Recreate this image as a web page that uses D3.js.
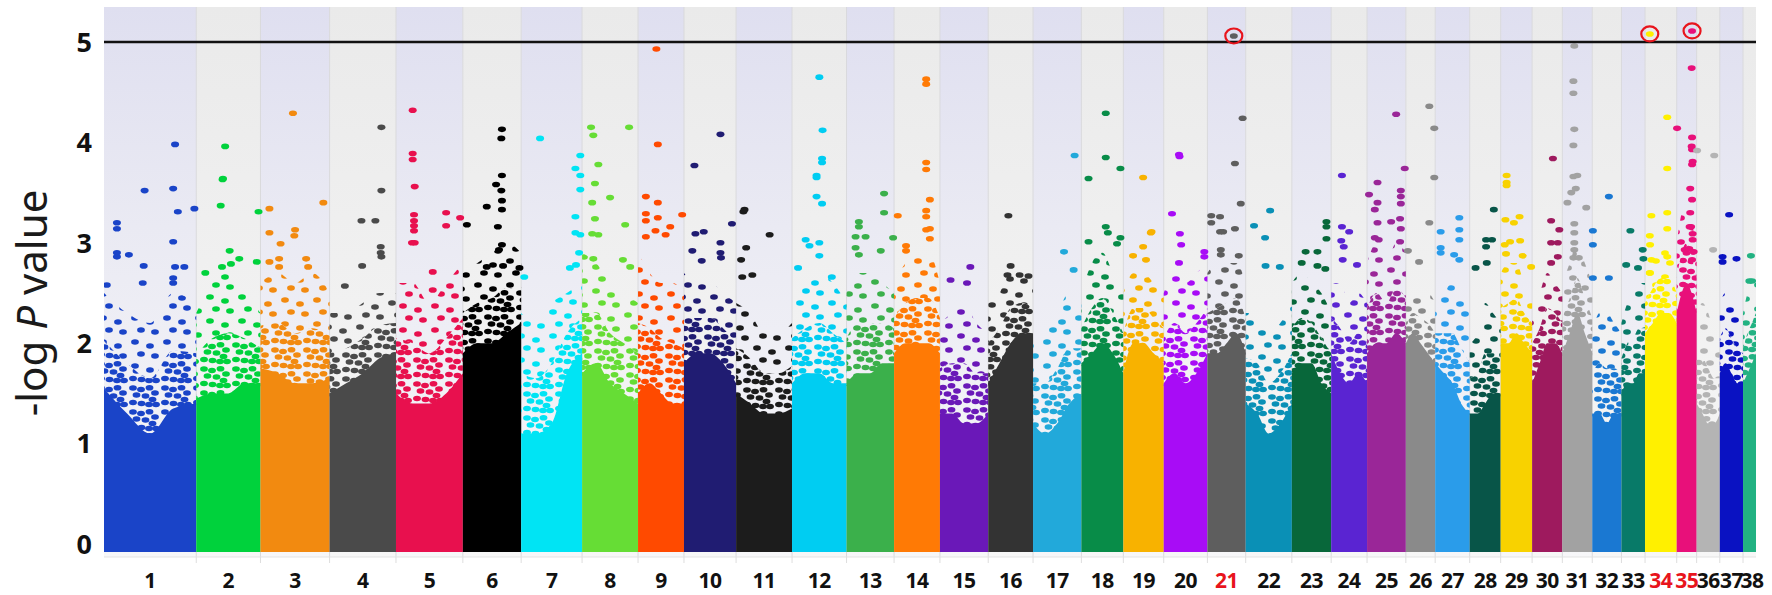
<!DOCTYPE html>
<html>
<head>
<meta charset="utf-8">
<script src="https://d3js.org/d3.v7.min.js"></script>
<style>
  html, body { margin: 0; padding: 0; background: #ffffff; }
  svg { display: block; font-family: "Noto Sans", "Open Sans", sans-serif; }
</style>
</head>
<body>
<svg id="chart" width="1772" height="595"></svg>
<script>
// chromosome names and lengths (Mb)
const chromNames = ["1","2","3","4","5","6","7","8","9","10","11","12","13","14","15","16","17","18","19",
  "20","21","22","23","24","25","26","27","28","29","30","31","32","33","34","35","36","37","38"];
const chromLengths = [122.7, 85.4, 91.9, 88.3, 88.9, 77.6, 81.0, 74.4, 61.1, 69.3, 74.4, 72.5, 63.2,
  61.0, 64.2, 59.6, 64.3, 55.8, 53.7, 58.1, 50.9, 61.4, 52.3, 47.7, 51.6, 39.0, 45.9, 41.2, 41.8,
  40.2, 39.8, 38.8, 31.4, 42.1, 26.5, 30.8, 30.9, 23.9];
const highlightChroms = ["21", "34", "35"];

// top of the dense (near solid) cloud, read at 0, 1/4, 1/2, 3/4, end of each chromosome
const coreLevels = [
  [1.55, 1.3, 1.1, 1.35, 1.4], [1.45, 1.5, 1.5, 1.6, 1.6], [1.75, 1.7, 1.6, 1.6, 1.65],
  [1.5, 1.6, 1.7, 1.85, 1.9], [1.5, 1.4, 1.4, 1.5, 1.7], [1.9, 2.0, 2.0, 2.1, 2.2],
  [1.1, 1.1, 1.2, 1.7, 1.9], [1.7, 1.8, 1.6, 1.5, 1.4], [1.5, 1.6, 1.5, 1.4, 1.4],
  [1.8, 1.9, 1.9, 1.8, 1.6], [1.5, 1.4, 1.3, 1.3, 1.35], [1.6, 1.7, 1.7, 1.6, 1.6],
  [1.6, 1.7, 1.7, 1.8, 1.8], [1.9, 2.0, 2.0, 2.0, 1.9], [1.3, 1.3, 1.2, 1.2, 1.3],
  [1.6, 1.8, 2.0, 2.1, 2.1], [1.2, 1.1, 1.2, 1.4, 1.5], [1.8, 1.9, 2.0, 1.9, 1.7],
  [1.7, 2.0, 2.0, 1.9, 1.8], [1.6, 1.7, 1.6, 1.7, 1.9], [1.9, 1.9, 2.0, 2.1, 1.9],
  [1.4, 1.3, 1.1, 1.2, 1.4], [1.7, 1.8, 1.8, 1.6, 1.5], [1.9, 1.7, 1.6, 1.7, 1.6],
  [1.9, 2.0, 2.0, 2.1, 2.0], [2.0, 2.1, 2.0, 1.9, 1.8], [1.8, 1.7, 1.6, 1.4, 1.3],
  [1.3, 1.3, 1.4, 1.5, 1.5], [2.0, 2.0, 2.1, 2.0, 1.9], [1.6, 1.8, 2.0, 2.0, 1.9],
  [1.9, 2.1, 2.3, 2.1, 1.9], [1.3, 1.3, 1.2, 1.3, 1.3], [1.5, 1.6, 1.6, 1.7, 1.7],
  [2.1, 2.2, 2.3, 2.3, 2.2], [2.3, 2.5, 2.6, 2.5, 2.3], [1.4, 1.3, 1.2, 1.2, 1.3],
  [1.7, 1.8, 1.7, 1.6, 1.6], [1.6, 1.7, 1.8, 1.9, 1.9]
];

// upper edge of the scattered band above the dense cloud, same sampling
const speckleLevels = [
  [2.5, 2.3, 2.2, 2.5, 2.4], [2.3, 2.6, 2.7, 2.5, 2.3], [2.6, 2.7, 2.6, 2.7, 2.5],
  [2.3, 2.3, 2.4, 2.5, 2.5], [2.6, 2.6, 2.4, 2.6, 2.8], [2.7, 2.8, 2.9, 3.0, 2.9],
  [2.3, 2.2, 2.4, 2.5, 2.6], [2.9, 2.8, 2.6, 2.5, 2.4], [2.9, 2.7, 2.6, 2.6, 2.5],
  [2.7, 2.6, 2.6, 2.5, 2.4], [2.4, 2.3, 2.1, 2.1, 2.2], [2.5, 2.6, 2.7, 2.6, 2.4],
  [2.5, 2.7, 2.7, 2.6, 2.5], [2.6, 2.8, 2.9, 2.9, 2.6], [2.2, 2.3, 2.4, 2.2, 2.1],
  [2.4, 2.5, 2.7, 2.7, 2.6], [2.0, 2.1, 2.3, 2.5, 2.4], [2.5, 2.8, 2.9, 2.7, 2.5],
  [2.5, 2.7, 2.7, 2.6, 2.5], [2.5, 2.7, 2.6, 2.7, 2.8], [2.7, 2.8, 2.8, 2.8, 2.6],
  [2.3, 2.3, 2.1, 2.2, 2.4], [2.6, 2.7, 2.6, 2.5, 2.3], [2.6, 2.6, 2.4, 2.5, 2.4],
  [2.8, 3.0, 2.8, 3.0, 2.9], [2.4, 2.5, 2.5, 2.5, 2.4], [2.4, 2.5, 2.6, 2.5, 2.3],
  [2.0, 2.1, 2.4, 2.3, 2.2], [2.7, 2.8, 2.8, 2.6, 2.5], [2.4, 2.5, 2.7, 2.6, 2.5],
  [2.6, 2.8, 3.0, 2.8, 2.6], [2.1, 2.3, 2.3, 2.2, 2.1], [2.2, 2.4, 2.5, 2.6, 2.6],
  [2.7, 2.9, 3.0, 3.0, 2.8], [3.0, 3.3, 3.4, 3.2, 3.0], [2.3, 2.4, 2.3, 2.1, 2.0],
  [2.4, 2.5, 2.4, 2.3, 2.2], [2.3, 2.5, 2.6, 2.7, 2.7]
];

// single SNPs standing above the cloud: [chromosome, position (Mb), -log P]
const hits = [
  [1,94.5,3.98],[1,54.0,3.52],[1,92.0,3.54],[1,98.2,3.31],[1,120.2,3.34],[1,17.2,3.2],[1,17.2,3.14],
  [1,17.2,2.9],[1,17.2,2.86],[1,33.1,2.88],[1,92.0,3.01],[1,52.8,2.77],[1,94.5,2.76],[1,106.8,2.76],
  [1,51.5,2.6],[1,92.0,2.65],[1,92.0,2.6],[1,3.7,2.58],
  [2,38.4,3.96],[2,35.0,3.63],[2,35.5,3.64],[2,32.5,3.37],[2,82.8,3.31],[2,44.4,2.92],[2,57.2,2.84],
  [2,46.1,2.79],[2,34.2,2.76],[2,80.5,2.81],[2,12.0,2.7],
  [3,43.2,4.29],[3,83.6,3.4],[3,11.9,3.34],[3,11.9,3.1],[3,46.0,3.13],[3,45.0,3.07],[3,26.7,2.99],
  [3,11.9,2.81],[3,24.8,2.84],[3,60.7,2.84],[3,63.4,2.76],[3,24.8,2.76],
  [4,68.9,4.15],[4,68.9,3.52],[4,42.4,3.22],[4,60.9,3.22],[4,68.0,2.96],[4,68.0,2.9],[4,68.9,2.86],
  [4,43.3,2.77],[4,20.3,2.57],
  [5,22.2,4.32],[5,22.2,3.89],[5,22.2,3.83],[5,24.9,3.56],[5,24.0,3.28],[5,24.0,3.22],[5,24.0,3.17],
  [5,24.0,3.12],[5,66.7,3.3],[5,66.7,3.17],[5,85.3,3.25],[5,21.3,3.0],[5,24.9,3.0],[5,48.9,2.71],
  [5,48.9,2.53],
  [6,52.0,4.13],[6,51.2,4.04],[6,52.0,3.67],[6,44.2,3.58],[6,51.2,3.52],[6,52.0,3.42],[6,52.0,3.33],
  [6,31.8,3.36],[6,5.4,3.18],[6,46.6,3.16],[6,52.0,2.98],[6,48.1,2.93],[6,31.8,2.76],[6,53.5,2.77],
  [6,75.3,2.75],
  [7,25.1,4.04],[7,78.6,3.87],[7,72.1,3.74],[7,78.6,3.67],[7,78.6,3.53],[7,72.1,3.26],[7,72.1,3.1],
  [7,78.6,3.08],[7,77.0,2.9],[7,64.8,2.75],[7,72.9,2.78],[7,4.1,2.66],
  [8,11.9,4.15],[8,62.5,4.15],[8,14.9,4.07],[8,21.6,3.78],[8,17.1,3.59],[8,37.2,3.45],[8,13.4,3.4],
  [8,17.1,3.24],[8,57.3,3.18],[8,13.4,3.09],[8,21.6,3.08],[8,54.3,2.83],[8,64.0,2.76],[8,14.9,2.84],
  [9,24.4,4.93],[9,26.3,3.98],[9,10.4,3.46],[9,26.3,3.4],[9,58.7,3.28],[9,10.4,3.29],[9,26.3,3.25],
  [9,10.4,3.22],[9,23.2,3.12],[9,36.7,3.08],[9,42.8,3.16],[9,10.4,3.06],
  [10,48.5,4.08],[10,13.9,3.77],[10,63.8,3.19],[10,15.2,3.09],[10,26.3,3.11],[10,48.5,3.0],
  [10,11.1,2.92],[10,23.6,2.82],[10,48.5,2.9],[10,49.2,2.85],
  [11,9.7,3.31],[11,11.2,3.33],[11,44.6,3.08],[11,13.4,2.95],[11,6.7,2.83],[11,21.6,2.68],[11,8.2,2.66],
  [12,36.3,4.65],[12,40.6,4.12],[12,39.9,3.84],[12,39.9,3.8],[12,32.6,3.67],[12,32.6,3.65],
  [12,32.6,3.46],[12,39.9,3.39],[12,18.1,3.03],[12,23.2,2.97],[12,36.3,3.0],[12,36.3,2.87],
  [12,8.0,2.75],[12,52.9,2.66],
  [13,49.9,3.49],[13,49.9,3.3],[13,16.4,3.21],[13,16.4,3.16],[13,12.0,3.06],[13,25.3,3.06],
  [13,61.9,3.05],[13,12.0,2.95],[13,16.4,2.88],[13,45.5,2.92],
  [14,42.7,4.63],[14,42.7,4.58],[14,42.7,3.8],[14,42.7,3.73],[14,47.6,3.43],[14,4.9,3.27],
  [14,42.7,3.32],[14,42.7,3.26],[14,47.6,3.14],[14,42.7,3.13],[14,47.6,3.04],[14,15.9,2.97],
  [14,15.9,2.92],
  [15,40.4,2.76],[15,14.1,2.63],[15,36.0,2.6],
  [16,26.8,3.27],[16,29.8,2.77],[16,25.6,2.68],[16,41.7,2.68],[16,53.6,2.67],
  [17,55.3,3.87],[17,41.2,2.91],[17,54.0,2.73],
  [18,32.4,4.29],[18,32.4,3.85],[18,51.9,3.74],[18,9.5,3.64],[18,32.4,3.16],[18,35.2,3.1],
  [18,51.9,3.05],[18,9.5,3.01],[18,47.4,2.99],
  [19,26.3,3.65],[19,36.5,3.1],[19,37.5,3.11],[19,26.3,2.96],[19,12.9,2.87],[19,30.1,2.83],
  [20,20.3,3.88],[20,21.0,3.86],[20,11.0,3.29],[20,21.5,3.09],[20,23.2,2.98],[20,54.0,2.91],
  [20,54.0,2.86],[20,20.3,2.8],
  [21,46.8,4.24],[21,36.6,3.79],[21,44.3,3.39],[21,5.1,3.27],[21,16.8,3.26],[21,5.1,3.2],
  [21,20.9,3.11],[21,16.8,3.11],[21,36.6,3.14],[21,17.8,2.93],[21,17.8,2.88],[21,41.7,2.87],
  [22,32.5,3.32],[22,11.1,3.17],[22,25.8,3.05],[22,26.4,2.77],[22,45.4,2.76],
  [23,46.0,3.21],[23,46.0,3.16],[23,46.0,3.04],[23,18.3,2.91],[23,34.0,2.91],[23,13.1,2.8],
  [23,34.0,2.77],[23,44.5,2.74],
  [24,14.3,3.67],[24,14.3,3.16],[24,23.9,3.11],[24,13.4,3.02],[24,16.7,2.96],[24,15.3,2.83],
  [24,34.3,2.78],
  [25,38.7,4.28],[25,50.1,3.74],[25,13.9,3.6],[25,2.6,3.48],[25,13.9,3.4],[25,44.9,3.52],
  [25,44.9,3.46],[25,44.9,3.39],[25,10.3,3.33],[25,13.9,3.2],[25,32.0,3.21],[25,43.9,3.24],
  [25,44.9,3.14],[25,10.3,3.05],[25,15.5,3.03],[25,43.9,3.01],
  [26,31.2,4.36],[26,37.8,4.14],[26,37.8,3.65],[26,31.2,3.2],[26,2.7,2.92],[26,17.6,2.81],
  [27,32.1,3.25],[27,32.1,3.13],[27,32.1,3.03],[27,7.3,3.11],[27,7.3,2.95],[27,7.3,2.9],
  [27,25.2,2.88],[27,32.1,2.83],
  [28,32.1,3.33],[28,29.7,3.03],[28,21.8,3.03],[28,21.8,2.96],[28,7.8,2.75],[28,22.7,2.8],
  [29,7.9,3.67],[29,7.9,3.6],[29,7.9,3.57],[29,6.3,3.23],[29,17.6,3.2],[29,25.1,3.26],[29,12.5,3.01],
  [29,25.9,3.02],[29,5.4,2.98],[29,29.3,2.87],[29,7.1,2.89],[29,40.5,2.76],
  [30,27.7,3.84],[30,25.3,3.22],[30,36.2,3.13],[30,25.3,3.0],[30,34.2,3.0],[30,34.2,2.86],[30,25.3,2.8],
  [31,15.9,4.96],[31,14.7,4.61],[31,14.7,4.49],[31,15.9,4.13],[31,14.7,3.97],[31,14.7,3.66],
  [31,19.9,3.67],[31,17.9,3.54],[31,11.9,3.5],[31,6.8,3.4],[31,31.8,3.35],[31,15.9,3.19],
  [31,15.9,3.1],[31,15.9,3.0],[31,15.9,2.93],[31,14.7,2.85],[31,21.9,2.85],
  [32,22.1,3.46],[32,0.8,3.12],[32,0.8,2.98],[32,22.1,2.65],[32,0.8,2.65],
  [33,11.9,3.12],[33,28.3,2.93],[33,29.2,2.84],[33,6.3,2.78],[33,22.0,2.75],
  [34,29.5,4.25],[34,29.5,3.74],[34,8.4,3.27],[34,29.5,3.3],[34,6.3,3.07],[34,6.7,2.98],
  [34,29.5,3.14],[34,29.5,2.86],[34,8.4,2.83],[34,6.3,2.7],
  [35,19.9,4.74],[35,0.5,4.14],[35,20.4,4.05],[35,19.9,3.96],[35,20.4,3.93],[35,21.2,3.81],
  [35,20.4,3.78],[35,18.0,3.54],[35,20.4,3.43],[35,18.0,3.3],[35,17.2,3.16],[35,19.1,3.16],
  [35,21.2,3.09],[35,10.6,2.93],[35,16.7,2.94],[35,21.2,3.03],[35,22.5,2.91],[35,20.4,2.83],
  [36,23.4,3.87],[36,0.6,3.92],[36,21.9,2.93],
  [37,12.4,3.28],[37,3.7,2.86],[37,3.7,2.81],[37,22.2,2.84],
  [38,10.5,2.87],[38,8.4,2.62],[38,12.0,2.62]
];

// SNPs passing the threshold, circled in the figure
const circledHits = [[21, 35.1, 5.06], [34, 6.3, 5.08], [35, 20.4, 5.11]];
const threshold = 5;
const yTicks = [0, 1, 2, 3, 4, 5];

// one colour per chromosome
const palette = ["#1a44c8", "#00d23c", "#f28a10", "#4a4a4a", "#e8104e", "#000000", "#00e4f4",
  "#66dd35", "#ff4a00", "#201c72", "#1c1c1c", "#00cdf2", "#3bb04b", "#ff7a05", "#6a18b8", "#333333",
  "#22a9da", "#088c48", "#f8b200", "#a80cf6", "#5e5e5e", "#0a90b6", "#08673a", "#5a24d2", "#9a2698",
  "#8a8a8a", "#2a9cea", "#085548", "#f8d200", "#9e1a5e", "#a2a2a2", "#1a78d2", "#087a68", "#fff000",
  "#e8107a", "#b4b4b4", "#0a12c2", "#22b282"];

// dot textures used to shade the crowded part of each cloud (32 x 24 tile)
const denseTile = [[5, 4], [13, 5.5], [21.5, 3.8], [27, 9], [8.5, 11], [17.5, 12], [24.5, 15.5],
  [5, 18.5], [13.5, 19.5], [21, 20.5], [28, 20.5]];
const sparseTile = [[7, 6], [22, 10], [13, 18], [27, 20]];

const svg = d3.select("#chart");
const plotLeft = 104, plotRight = 1756, plotTop = 7, plotBottom = 557;

const starts = [];
chromLengths.reduce((acc, l) => { starts.push(acc); return acc + l; }, 0);
const total = d3.sum(chromLengths);

const x = d3.scaleLinear().domain([0, total]).range([104, 1761]);
const y = d3.scaleLinear().domain([0, threshold]).range([544, 42]);

const defs = svg.append("defs");
defs.append("clipPath").attr("id", "plotClip")
  .append("rect").attr("x", plotLeft).attr("y", plotTop)
  .attr("width", plotRight - plotLeft).attr("height", plotBottom - plotTop);

const gOdd = defs.append("linearGradient").attr("id", "bgOdd")
  .attr("x1", 0).attr("y1", 0).attr("x2", 0).attr("y2", 1);
gOdd.append("stop").attr("offset", "0%").attr("stop-color", "#dfdff0");
gOdd.append("stop").attr("offset", "40%").attr("stop-color", "#eaeaf3");
gOdd.append("stop").attr("offset", "100%").attr("stop-color", "#f7f7f9");
const gEven = defs.append("linearGradient").attr("id", "bgEven")
  .attr("x1", 0).attr("y1", 0).attr("x2", 0).attr("y2", 1);
gEven.append("stop").attr("offset", "0%").attr("stop-color", "#eaeaea");
gEven.append("stop").attr("offset", "100%").attr("stop-color", "#f7f7f7");

function addTexture(id, color, tile, ox, oy) {
  const p = defs.append("pattern").attr("id", id)
    .attr("patternUnits", "userSpaceOnUse")
    .attr("x", ox).attr("y", oy)
    .attr("width", 32).attr("height", 24);
  p.selectAll("ellipse")
    .data(tile)
    .enter()
    .append("ellipse")
    .attr("cx", (d) => d[0]).attr("cy", (d) => d[1])
    .attr("rx", 3.9).attr("ry", 2.8)
    .attr("fill", color);
}
palette.forEach((c, i) => {
  addTexture(`dense${i}`, c, denseTile, i * 7, i * 5);
  addTexture(`sparse${i}`, c, sparseTile, i * 11, i * 3);
});

const plot = svg.append("g").attr("clip-path", "url(#plotClip)");

// alternating chromosome bands
plot.selectAll(".band")
  .data(chromNames)
  .enter()
  .append("rect")
  .attr("class", "band")
  .attr("x", (d, i) => x(starts[i]))
  .attr("y", plotTop)
  .attr("width", (d, i) => x(starts[i] + chromLengths[i]) - x(starts[i]))
  .attr("height", plotBottom - plotTop)
  .attr("fill", (d, i) => (i % 2 === 0 ? "url(#bgOdd)" : "url(#bgEven)"));

plot.selectAll(".sep")
  .data(starts.slice(1))
  .enter()
  .append("line")
  .attr("x1", (d) => x(d)).attr("x2", (d) => x(d))
  .attr("y1", plotTop).attr("y2", plotBottom)
  .attr("stroke", "#d9d9dc").attr("stroke-width", 1);

// point clouds: solid core, crowded band, thin band
const fracs = [0, 0.25, 0.5, 0.75, 1];
const area = d3.area().curve(d3.curveMonotoneX).x((d) => d.x);

chromNames.forEach((name, i) => {
  const g = plot.append("g").attr("class", `chr chr${name}`);
  const pts = fracs.map((f, k) => {
    const c = coreLevels[i][k], s = speckleLevels[i][k];
    return { x: x(starts[i] + f * chromLengths[i]), core: y(c), mid: y(c + 0.5 * (s - c)), top: y(s) };
  });
  g.append("path")
    .attr("d", area.y0((d) => d.mid).y1((d) => d.top)(pts))
    .attr("fill", `url(#sparse${i})`);
  g.append("path")
    .attr("d", area.y0((d) => d.core + 3).y1((d) => d.mid)(pts))
    .attr("fill", `url(#dense${i})`);
  g.append("path")
    .attr("d", area.y0(y(-0.08)).y1((d) => d.core)(pts))
    .attr("fill", palette[i]);
});

plot.selectAll(".hit")
  .data(hits.concat(circledHits))
  .enter()
  .append("ellipse")
  .attr("class", "hit")
  .attr("cx", (d) => x(starts[d[0] - 1] + d[1]))
  .attr("cy", (d) => y(d[2]))
  .attr("rx", 4)
  .attr("ry", 2.8)
  .attr("fill", (d) => palette[d[0] - 1]);

// threshold line
svg.append("line")
  .attr("x1", plotLeft).attr("x2", plotRight)
  .attr("y1", y(threshold)).attr("y2", y(threshold))
  .attr("stroke", "#111").attr("stroke-width", 2.5);

svg.selectAll(".ring")
  .data(circledHits)
  .enter()
  .append("ellipse")
  .attr("class", "ring")
  .attr("cx", (d) => x(starts[d[0] - 1] + d[1]))
  .attr("cy", (d) => y(d[2]))
  .attr("rx", 8.5).attr("ry", 7.5)
  .attr("fill", "none").attr("stroke", "#e8141c").attr("stroke-width", 2.2);

// bottom base and chromosome ticks
svg.append("line")
  .attr("x1", plotLeft).attr("x2", plotRight).attr("y1", plotBottom).attr("y2", plotBottom)
  .attr("stroke", "#e3e3e3").attr("stroke-width", 1);
svg.selectAll(".ctick")
  .data(starts.slice(1))
  .enter()
  .append("line")
  .attr("x1", (d) => x(d)).attr("x2", (d) => x(d))
  .attr("y1", plotBottom).attr("y2", plotBottom + 6)
  .attr("stroke", "#dedede");

// axis labels
svg.selectAll(".ylab")
  .data(yTicks)
  .enter()
  .append("text")
  .attr("class", "ylab")
  .attr("x", 92)
  .attr("y", (d) => y(d))
  .attr("dy", "0.36em")
  .attr("text-anchor", "end")
  .attr("font-size", 27)
  .attr("font-weight", 700)
  .attr("fill", "#111")
  .text((d) => d);

svg.selectAll(".xlab")
  .data(chromNames)
  .enter()
  .append("text")
  .attr("class", "xlab")
  .attr("x", (d, i) => x(starts[i] + chromLengths[i] / 2))
  .attr("y", 588)
  .attr("text-anchor", "middle")
  .attr("font-size", 21)
  .attr("font-weight", 700)
  .attr("letter-spacing", "-0.5px")
  .attr("fill", (d) => (highlightChroms.includes(d) ? "#e8141c" : "#111"))
  .text((d) => d);

const title = svg.append("text")
  .attr("transform", "translate(47,303) rotate(-90)")
  .attr("text-anchor", "middle")
  .attr("font-size", 42)
  .attr("fill", "#1a1a1a");
title.append("tspan").text("-log ");
title.append("tspan").attr("font-style", "italic").text("P");
title.append("tspan").text(" value");
</script>
</body>
</html>
